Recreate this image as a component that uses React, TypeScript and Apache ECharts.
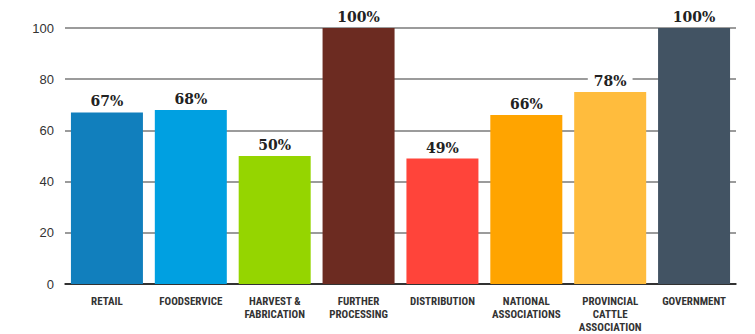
import React, { useEffect, useRef } from "react";
import * as echarts from "echarts";

const categories = [
  "RETAIL",
  "FOODSERVICE",
  "HARVEST &\nFABRICATION",
  "FURTHER\nPROCESSING",
  "DISTRIBUTION",
  "NATIONAL\nASSOCIATIONS",
  "PROVINCIAL\nCATTLE\nASSOCIATION",
  "GOVERNMENT",
];
const barValues = [67, 68, 50, 100, 49, 66, 75, 100];
const labelValues = [67, 68, 50, 100, 49, 66, 78, 100];
const barColors = [
  "#117fbd",
  "#00a0e1",
  "#95d500",
  "#6c2b21",
  "#ff443a",
  "#ffa400",
  "#ffbc3d",
  "#425363",
];
const yTicks = { min: 0, max: 100, interval: 20 };

export default function App() {
  const ref = useRef<HTMLDivElement>(null);
  useEffect(() => {
    if (!ref.current) return;
    const chart = echarts.init(ref.current, null, { renderer: "svg" });
    chart.setOption({
      animation: false,
      backgroundColor: "#ffffff",
      grid: { left: 65, right: 19, top: 28, bottom: 47, containLabel: false },
      xAxis: {
        type: "category",
        data: categories,
        axisLine: { show: true, lineStyle: { color: "#111", width: 1.5 } },
        axisTick: { show: false },
        axisLabel: {
          interval: 0,
          color: "#333",
          fontFamily: "'Liberation Sans Narrow', 'Roboto Condensed', 'Arial Narrow', sans-serif",
          fontWeight: "bold",
          fontSize: 11,
          lineHeight: 13,
          margin: 11,
        },
      },
      yAxis: {
        type: "value",
        min: yTicks.min,
        max: yTicks.max,
        interval: yTicks.interval,
        axisLine: { show: false },
        axisTick: { show: false },
        axisLabel: {
          color: "#333",
          fontFamily: "'Liberation Sans', Arial, sans-serif",
          fontSize: 13,
          margin: 11,
        },
        splitLine: { show: true, lineStyle: { color: "#7a7a7a", width: 1.5 } },
      },
      series: [
        {
          type: "bar",
          data: barValues.map((v, i) => ({ value: v, itemStyle: { color: barColors[i] } })),
          barWidth: 72,
          label: {
            show: true,
            position: "top",
            distance: 3,
            formatter: (p: any) => labelValues[p.dataIndex] + "%",
            color: "#222",
            fontFamily: "'DejaVu Serif', serif",
            fontWeight: "bold",
            fontSize: 14,
            backgroundColor: "#ffffff",
            padding: [1, 6, 1, 6],
          },
        },
      ],
    });
    return () => chart.dispose();
  }, []);
  return (
    <div
      ref={ref}
      style={{ position: "fixed", left: 0, top: 0, width: 755, height: 334 }}
    />
  );
}
